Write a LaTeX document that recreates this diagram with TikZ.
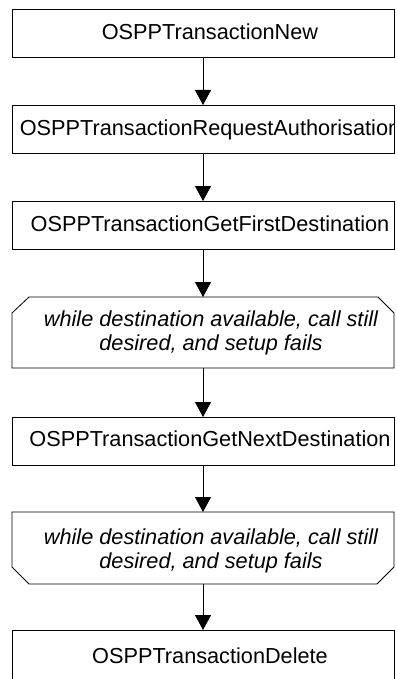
\documentclass[tikz,border=0pt]{standalone}
\usepackage{fontspec}
\setmainfont{Liberation Sans}
\usetikzlibrary{arrows.meta}

\begin{document}
\begin{tikzpicture}[x=1pt,y=-1pt,
    every node/.style={inner sep=0pt,outer sep=0pt},
    stepbox/.style={draw,line width=0.8pt,rectangle,minimum width=382pt,minimum height=48pt},
    loopbox/.style={rectangle,minimum width=382pt},
    outline/.style={line width=0.8pt,line join=miter},
    label/.style={font=\fontsize{21.7}{24}\selectfont,anchor=base},
    looptext/.style={font=\fontsize{21.7}{24}\selectfont\itshape,align=center},
    flow/.style={line width=0.8pt,-{Triangle[width=16pt,length=15pt]}}]
  \useasboundingbox (0,0) rectangle (396,679);

  % call sequence boxes
  \node[stepbox] (new) at (203,33) {};
  \node[stepbox] (auth) at (203,129) {};
  \node[stepbox] (first) at (203,225) {};
  \node[loopbox,minimum height=71pt] (loopA) at (203,332.5) {};
  \node[stepbox] (next) at (203,441) {};
  \node[loopbox,minimum height=72pt] (loopB) at (203,548) {};
  \node[stepbox,minimum height=52pt] (del) at (203,656) {};

  % loop boxes: top corners cut on the first, bottom corners on the second
  \draw[outline] ([xshift=17pt]loopA.north west) -- ([xshift=-16pt]loopA.north east)
    -- ([yshift=-16pt]loopA.north east) -- (loopA.south east)
    -- (loopA.south west) -- ([yshift=-16pt]loopA.north west) -- cycle;
  \draw[outline] (loopB.north west) -- (loopB.north east)
    -- ([yshift=17pt]loopB.south east) -- ([xshift=-17pt]loopB.south east)
    -- ([xshift=17pt]loopB.south west) -- ([yshift=17pt]loopB.south west) -- cycle;

  % box labels
  \node[label] (tnew) at (210,40) {OSPPTransactionNew};
  \begin{scope}
    \clip (12,105) rectangle (394,153);
    \node[label] (tauth) at (210,136) {OSPPTransactionRequestAuthorisation};
  \end{scope}
  \node[label] (tfirst) at (210,231) {OSPPTransactionGetFirstDestination};
  \node[looptext] (tloopA) at (211,332.4) {while destination available, call still\\desired, and setup fails};
  \node[label] (tnext) at (210,446) {OSPPTransactionGetNextDestination};
  \node[looptext] (tloopB) at (211,550.4) {while destination available, call still\\desired, and setup fails};
  \node[label] (tdel) at (210,663) {OSPPTransactionDelete};

  % connectors
  \draw[flow] (new.south) -- (auth.north);
  \draw[flow] (auth.south) -- (first.north);
  \draw[flow] (first.south) -- (loopA.north);
  \draw[flow] (loopA.south) -- (next.north);
  \draw[flow] (next.south) -- (loopB.north);
  \draw[flow] (loopB.south) -- (del.north);
\end{tikzpicture}
\end{document}
